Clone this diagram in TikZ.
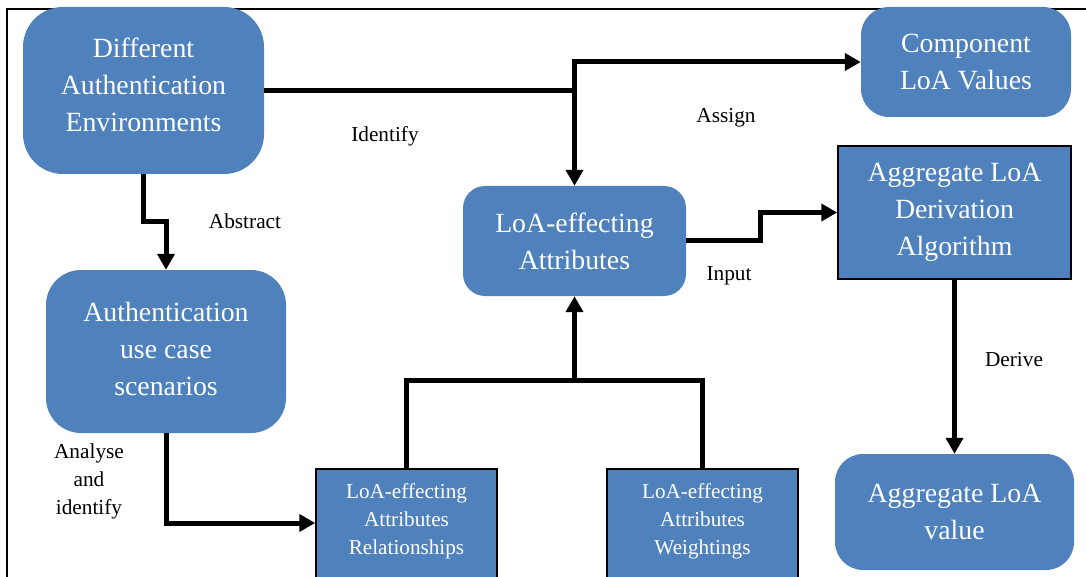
\documentclass[tikz,border=0pt]{standalone}
\usepackage{fontspec}
\setmainfont{Liberation Serif}
\usetikzlibrary{arrows.meta}
\definecolor{boxblue}{HTML}{4F81BD}

\begin{document}
\begin{tikzpicture}[x=1pt, y=-1pt,
	rbox/.style={fill=boxblue, text=white, align=center, inner sep=0pt, rounded corners=28pt, font=\fontsize{27.8}{37}\selectfont},
	sbox/.style={fill=boxblue, draw=black, line width=1.5pt, text=white, align=center, inner sep=0pt, font=\fontsize{27.8}{37}\selectfont},
	lbl/.style={align=center, font=\fontsize{21.3}{28}\selectfont},
	wire/.style={line width=5pt},
	conn/.style={wire, -{Triangle[width=17pt,length=16pt]}}]
	\useasboundingbox (0,0) rectangle (1086,577);
	% frame
	\draw[line width=1.5pt] (7,600) -- (7,9) -- (1100,9);

	% boxes
	\node [rbox, rounded corners=40pt, minimum width=241pt, minimum height=167pt, text depth=12pt] (env) at (143.5,90.5) {Different \\ Authentication \\ Environments};
	\node [rbox, minimum width=210pt, minimum height=110pt] (comp) at (966,62) {Component \\ LoA Values};
	\node [sbox, minimum width=233pt, minimum height=133pt] (algo) at (954.5,212.5) {Aggregate LoA \\ Derivation \\ Algorithm};
	\node [rbox, rounded corners=22pt, minimum width=223pt, minimum height=110pt] (attr) at (574.5,241) {LoA-effecting \\ Attributes};
	\node [rbox, rounded corners=35pt, minimum width=240pt, minimum height=163pt, text depth=6pt] (usecase) at (166,351.5) {Authentication \\ use case \\ scenarios};
	\node [rbox, minimum width=239pt, minimum height=116pt] (value) at (954.5,512) {Aggregate LoA \\ value};
	\node [sbox, anchor=north, minimum width=181pt, inner ysep=15pt, text depth=110pt, font=\fontsize{21.2}{28}\selectfont] (rel) at (406.5,468) {LoA-effecting \\ Attributes \\ Relationships};
	\node [sbox, anchor=north, minimum width=191pt, inner ysep=15pt, text depth=110pt, font=\fontsize{21.2}{28}\selectfont] (wgt) at (702.5,468) {LoA-effecting \\ Attributes \\ Weightings};

	% labels
	\node [lbl] (identify) at (385,136) {Identify};
	\node [lbl] (assign) at (726,118) {Assign};
	\node [lbl] (abstract) at (245,221) {Abstract};
	\node [lbl] (input) at (729,276) {Input};
	\node [lbl] (analyse) at (89,481) {Analyse \\ and \\ identify};
	\node [lbl] (derive) at (1014,360) {Derive};

	% connectors
	\draw [conn] (env.east) -- (attr.north |- env.east) -- (attr.north);
	\draw [conn] (attr.north |- env.east) -- (attr.north |- comp.west) -- (comp.west);
	\draw [conn] (env.south) -- (env.south |- 0,222) -- (usecase.north |- 0,222) -- (usecase.north);
	\draw [conn] (usecase.south) |- ([yshift=-55pt]rel.north west);
	\draw [wire] (rel.north) -- (rel.north |- 0,380) -| (wgt.north);
	\draw [conn] (attr.south |- 0,380) -- (attr.south);
	\draw [conn] (attr.east) -- (760,241) |- (algo.west);
	\draw [conn] (algo.south) -- (value.north);
\end{tikzpicture}
\end{document}
